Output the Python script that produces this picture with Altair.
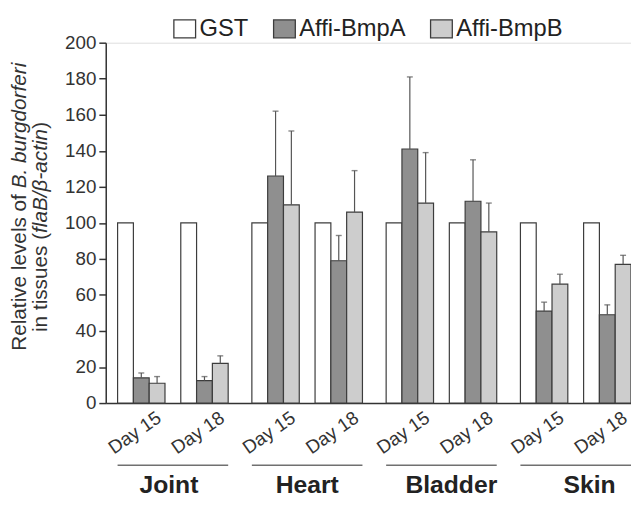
import altair as alt
import pandas as pd

tissues = ["Joint", "Heart", "Bladder", "Skin"]
days = ["Day 15", "Day 18"]
series = ["GST", "Affi-BmpA", "Affi-BmpB"]

# values per (tissue, day) in order J15, J18, H15, H18, B15, B18, S15, S18
gst_vals = [100, 100, 100, 100, 100, 100, 100, 100]
gst_err = [0, 0, 0, 0, 0, 0, 0, 0]
bmpa_vals = [14, 12.5, 126, 79, 141, 112, 51, 49]
bmpa_err = [2.7, 2.2, 36, 14, 40, 23, 5, 5.5]
bmpb_vals = [11, 22, 110, 106, 111, 95, 66, 77]
bmpb_err = [3.7, 4.2, 41, 23, 28, 16, 5.5, 5]

fills = ["#ffffff", "#8f8f8f", "#cdcdcd"]

# y title pieces (plain / italic)
title_line1 = [("Relative levels of ", "normal"), ("B. burgdorferi", "italic")]
title_line2 = [("in tissues (", "normal"), ("flaB/β-actin", "italic"), (")", "normal")]

# slot layout inside each tissue band: 3 bars, a spacer, 3 bars
slots = [f"{days[0]}|{s}" for s in series] + ["spacer"] + [f"{days[1]}|{s}" for s in series]

rows = []
for k, (t, d) in enumerate([(t, d) for t in tissues for d in days]):
    for s, vals, errs in zip(series, [gst_vals, bmpa_vals, bmpb_vals], [gst_err, bmpa_err, bmpb_err]):
        rows.append({"tissue": t, "day": d, "series": s, "slot": f"{d}|{s}",
                     "value": vals[k], "upper": vals[k] + errs[k]})
df = pd.DataFrame(rows)
labels_df = pd.DataFrame([{"tissue": t, "day": d, "slot": f"{d}|{series[-1]}"}
                          for t in tissues for d in days])
tissue_df = pd.DataFrame({"tissue": tissues})
one = pd.DataFrame({"k": [0]})

FONT = "Liberation Sans"
TXT = "#333333"
W, H = 532, 365

xscale = alt.Scale(domain=tissues, paddingInner=24 / 136, paddingOuter=6 / 136, align=1)
xaxis = alt.Axis(title=None, labelAngle=0, labelFontSize=25, labelFontWeight="bold",
                 labelColor="#222222", labelFont=FONT, labelBaseline="alphabetic", labelPadding=91,
                 ticks=False, tickSize=0, domainColor=TXT, domainWidth=1.5,
                 labelOffset={"condition": [{"test": "datum.value === 'Joint'", "value": -4},
                                            {"test": "datum.value === 'Bladder'", "value": 10},
                                            {"test": "datum.value === 'Skin'", "value": 14}],
                              "value": 0})
x = alt.X("tissue:N", sort=tissues, scale=xscale, axis=xaxis)
xo = alt.XOffset("slot:N", sort=slots,
                 scale=alt.Scale(domain=slots, paddingInner=0, paddingOuter=0))
yscale = alt.Scale(domain=[0, 200], nice=False)
yaxis = alt.Axis(title=None,
                 values=list(range(0, 201, 20)), labelOverlap=False,
                 tickSize=7, tickWidth=1.5, tickColor=TXT,
                 domainColor=TXT, domainWidth=1.5, labelFontSize=19, labelColor=TXT,
                 labelFont=FONT, labelPadding=3, grid=False)
color = alt.Color("series:N", sort=series,
                  scale=alt.Scale(domain=series, range=fills),
                  legend=alt.Legend(title=None, orient="none", direction="horizontal",
                                    legendX=68, legendY=-26,
                                    symbolType="M-1,-0.82H1V0.82H-1Z", symbolSize=484,
                                    symbolStrokeColor="#3c3c3c", symbolStrokeWidth=1.3,
                                    symbolOpacity=1, labelFontSize=24, labelFont=FONT,
                                    labelColor="#222222", labelOffset=3, columnPadding=22,
                                    padding=0, offset=0))

bars = alt.Chart(df).mark_bar(stroke="#3c3c3c", strokeWidth=1.2, opacity=1).encode(
    x=x, xOffset=xo, y=alt.Y("value:Q", scale=yscale, axis=yaxis), color=color)
errs = alt.Chart(df).transform_filter("datum.upper > datum.value").mark_rule(
    color="#555555", strokeWidth=1.2).encode(
    x=x, xOffset=xo, y=alt.Y("value:Q", scale=yscale, axis=yaxis), y2="upper:Q")
caps = alt.Chart(df).transform_filter("datum.upper > datum.value").mark_tick(
    color="#555555", size=6, thickness=1.4, orient="horizontal").encode(
    x=x, xOffset=xo, y=alt.Y("upper:Q", scale=yscale, axis=yaxis))
day_text = alt.Chart(labels_df).mark_text(
    angle=325, align="right", baseline="top", fontSize=19, font=FONT, color=TXT,
    dx=-2.5, dy=-1.7).encode(
    x=x, xOffset=xo, y=alt.value(H + 5.5), text="day:N")
underline = alt.Chart(tissue_df).mark_tick(
    color=TXT, size=112, thickness=1.5, orient="horizontal").encode(
    x=x, y=alt.value(H + 63))

# rotated, two-line y title with italic parts (Arial-compatible advance widths, em units)
ADV = {" ": .278, "(": .333, ")": .333, ".": .278, "/": .278, "-": .333, "β": .575,
       "a": .556, "b": .556, "c": .5, "d": .556, "e": .556, "f": .278, "g": .556, "i": .222,
       "l": .222, "n": .556, "o": .556, "r": .333, "s": .5, "t": .278, "u": .556, "v": .5,
       "B": .667, "R": .722}
TFS = 21


def text_width(s):
    return sum(ADV.get(c, .556) for c in s) * TFS


def title_line(parts, baseline_x, start_y):
    y0 = start_y
    layers = []
    for p, style in parts:
        layers.append(alt.Chart(one).mark_text(
            text=p, angle=270, align="left", baseline="alphabetic", fontSize=TFS,
            font=FONT, fontStyle=style, color=TXT).encode(
            x=alt.value(baseline_x), y=alt.value(y0)))
        y0 -= text_width(p)
    return layers


ytitle = title_line(title_line1, -81, 312) + title_line(title_line2, -59, 293)

chart = alt.layer(bars, errs, caps, day_text, underline, *ytitle).properties(
    width=W, height=H,
    autosize=alt.AutoSizeParams(type="none"),
    padding={"left": 99, "top": 32, "right": 0, "bottom": 92},
).configure_view(strokeWidth=0).configure(font=FONT)

chart.save("out.html", embed_options={"renderer": "svg", "actions": False})
